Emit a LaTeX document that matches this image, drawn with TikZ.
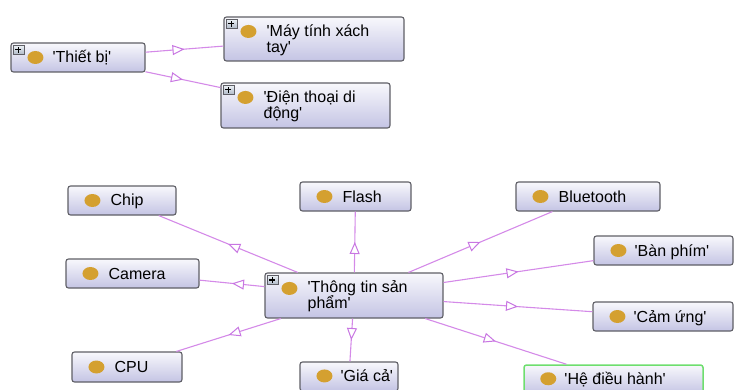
\documentclass[tikz,border=0pt]{standalone}
\usepackage{fontspec}
\newfontfamily\lab{Liberation Sans}[Ligatures=TeXOff]
\usetikzlibrary{arrows.meta,decorations.markings,shapes.geometric}
\definecolor{edgec}{RGB}{212,138,232}
\definecolor{tipc}{RGB}{200,118,226}
\definecolor{boxtop}{RGB}{248,248,252}
\definecolor{boxbot}{RGB}{196,196,228}
\definecolor{boxdraw}{RGB}{95,95,102}
\definecolor{gold}{RGB}{212,160,48}
\definecolor{selgreen}{RGB}{110,222,110}
\definecolor{plustop}{RGB}{235,240,245}
\definecolor{plusbot}{RGB}{175,185,200}
\tikzset{
  box/.style={rectangle, rounded corners=2.5pt, draw=boxdraw, line width=1.1pt,
    top color=boxtop, bottom color=boxbot, inner sep=0pt},
  dot/.style={ellipse, fill=gold, minimum width=16pt, minimum height=13pt, inner sep=0pt},
  lbl/.style={font=\lab\fontsize{16}{18}\selectfont, inner sep=0pt, anchor=base west},
  plusbox/.style={rectangle, draw=boxdraw, line width=0.6pt, top color=plustop, bottom color=plusbot,
    minimum width=11pt, minimum height=9pt, inner sep=0pt,
    path picture={
      \draw[line width=1.1pt,black] ([xshift=-3pt]path picture bounding box.center) -- ([xshift=3pt]path picture bounding box.center);
      \draw[line width=1.1pt,black] ([yshift=-3pt]path picture bounding box.center) -- ([yshift=3pt]path picture bounding box.center);}},
  isa/.style={draw=edgec, line width=1.1pt, postaction={decorate},
    decoration={markings, mark=at position 0.5 with {\arrow{Triangle[length=12pt,width=10pt,color=tipc,fill=white,line width=1pt]}}}}
}
\begin{document}
\begin{tikzpicture}[x=1pt,y=1pt]
\useasboundingbox (0,0) rectangle (734,389);
% boxes
\node[box, minimum width=134pt, minimum height=29pt] (thietbi) at (78,331.5) {};
\node[box, minimum width=180pt, minimum height=44pt] (maytinh) at (314,350) {};
\node[box, minimum width=169pt, minimum height=45pt] (dienthoai) at (305.5,283.5) {};
\node[box, minimum width=108pt, minimum height=29pt] (chip) at (122,188.5) {};
\node[box, minimum width=111pt, minimum height=29pt] (flash) at (355.5,192.5) {};
\node[box, minimum width=144pt, minimum height=29pt] (bluetooth) at (588,192.5) {};
\node[box, minimum width=139pt, minimum height=29pt] (banphim) at (663.5,138.5) {};
\node[box, minimum width=133pt, minimum height=29pt] (camera) at (132.5,115.5) {};
\node[box, minimum width=178pt, minimum height=45pt] (thongtin) at (354,93.5) {};
\node[box, minimum width=140pt, minimum height=29pt] (camung) at (663,72.5) {};
\node[box, minimum width=110pt, minimum height=30pt] (cpu) at (127,22) {};
\node[box, minimum width=98pt, minimum height=29pt] (giaca) at (349,12.5) {};
\node[box, draw=selgreen, line width=1.5pt, minimum width=179pt, minimum height=29pt] (hdh) at (613.5,9.5) {};
% connectors
\draw[isa] (thietbi) -- (maytinh);
\draw[isa] (thietbi) -- (dienthoai);
\draw[isa] (thongtin) -- (chip);
\draw[isa] (thongtin) -- (flash);
\draw[isa] (thongtin) -- (bluetooth);
\draw[isa] (thongtin) -- (banphim);
\draw[isa] (thongtin) -- (camera);
\draw[isa] (thongtin) -- (camung);
\draw[isa] (thongtin) -- (cpu);
\draw[isa] (thongtin) -- (giaca);
\draw[isa] (thongtin) -- (hdh);
% plus icons
\node[plusbox] (thietbiplus) at ([xshift=8pt,yshift=-7.5pt]thietbi.north west) {};
\node[plusbox] (maytinhplus) at ([xshift=8pt,yshift=-7.5pt]maytinh.north west) {};
\node[plusbox] (dienthoaiplus) at ([xshift=8pt,yshift=-7.5pt]dienthoai.north west) {};
\node[plusbox] (thongtinplus) at ([xshift=8pt,yshift=-7.5pt]thongtin.north west) {};
% dots
\node[dot] (thietbidot) at ([xshift=25pt]thietbi.west) {};
\node[dot] (maytinhdot) at ([xshift=25pt,yshift=-15pt]maytinh.north west) {};
\node[dot] (dienthoaidot) at ([xshift=25pt,yshift=-15pt]dienthoai.north west) {};
\node[dot] (chipdot) at ([xshift=25pt]chip.west) {};
\node[dot] (flashdot) at ([xshift=25pt]flash.west) {};
\node[dot] (bluetoothdot) at ([xshift=25pt]bluetooth.west) {};
\node[dot] (banphimdot) at ([xshift=25pt]banphim.west) {};
\node[dot] (cameradot) at ([xshift=25pt]camera.west) {};
\node[dot] (thongtindot) at ([xshift=25pt,yshift=-16pt]thongtin.north west) {};
\node[dot] (camungdot) at ([xshift=25pt]camung.west) {};
\node[dot] (cpudot) at ([xshift=25pt]cpu.west) {};
\node[dot] (giacadot) at ([xshift=25pt,yshift=-14.5pt]giaca.north west) {};
\node[dot] (hdhdot) at ([xshift=25pt,yshift=-14.5pt]hdh.north west) {};
% labels
\node[lbl] (thietbit) at ([xshift=42pt,yshift=-5.5pt]thietbi.west) {'Thiết bị'};
\node[lbl] (maytinht1) at ([xshift=43pt,yshift=-20pt]maytinh.north west) {'Máy tính xách};
\node[lbl] (maytinht2) at ([xshift=43pt,yshift=-36.5pt]maytinh.north west) {tay'};
\node[lbl] (dienthoait1) at ([xshift=43pt,yshift=-20pt]dienthoai.north west) {'Điện thoại di};
\node[lbl] (dienthoait2) at ([xshift=43pt,yshift=-36.5pt]dienthoai.north west) {động'};
\node[lbl] (chipt) at ([xshift=43pt,yshift=-5.5pt]chip.west) {Chip};
\node[lbl] (flasht) at ([xshift=43pt,yshift=-5.5pt]flash.west) {Flash};
\node[lbl] (bluetootht) at ([xshift=43pt,yshift=-5.5pt]bluetooth.west) {Bluetooth};
\node[lbl] (banphimt) at ([xshift=41pt,yshift=-5.5pt]banphim.west) {'Bàn phím'};
\node[lbl] (camerat) at ([xshift=43pt,yshift=-5.5pt]camera.west) {Camera};
\node[lbl] (thongtint1) at ([xshift=43pt,yshift=-20pt]thongtin.north west) {'Thông tin sản};
\node[lbl] (thongtint2) at ([xshift=43pt,yshift=-36.5pt]thongtin.north west) {phẩm'};
\node[lbl] (camungt) at ([xshift=41pt,yshift=-5.5pt]camung.west) {'Cảm ứng'};
\node[lbl] (cput) at ([xshift=43pt,yshift=-5.5pt]cpu.west) {CPU};
\node[lbl] (giacat) at ([xshift=41pt,yshift=-20pt]giaca.north west) {'Giá cả'};
\node[lbl] (hdht) at ([xshift=41pt,yshift=-20pt]hdh.north west) {'Hệ điều hành'};
\end{tikzpicture}
\end{document}
